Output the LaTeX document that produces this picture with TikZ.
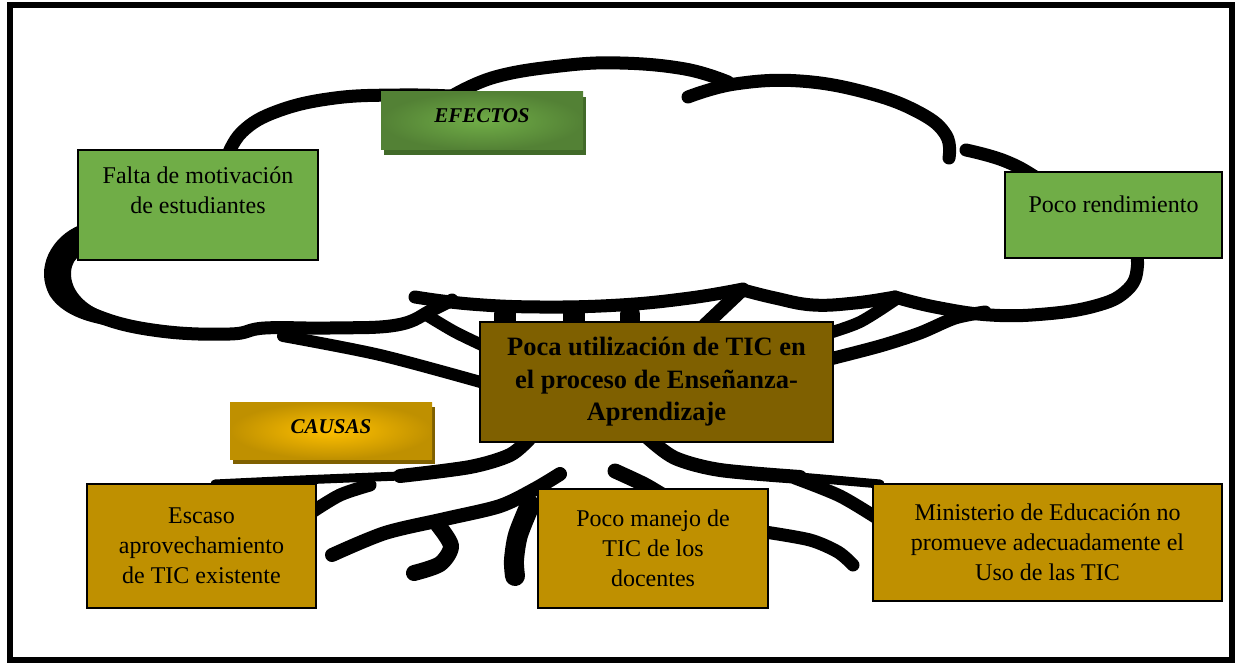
\documentclass[tikz,border=0pt]{standalone}
\usepackage{fontspec}
\setmainfont{Liberation Serif}
\usetikzlibrary{shadows}

\definecolor{effgreen}{HTML}{70AD47}
\definecolor{effdark}{HTML}{538135}
\definecolor{effshade}{HTML}{416A29}
\definecolor{causegold}{HTML}{BF9000}
\definecolor{causelight}{HTML}{FFC000}
\definecolor{coreolive}{HTML}{7F6000}

\tikzset{
  branch/.style={line width=13pt,line cap=round,line join=round},
  effbox/.style={draw,line width=2pt,fill=effgreen,inner sep=0pt,align=center,
    font=\fontsize{24}{30}\selectfont},
  efftext/.style={inner sep=0pt,align=center,font=\fontsize{24}{30}\selectfont},
  causebox/.style={draw,line width=2pt,fill=causegold,inner sep=0pt,align=center,
    font=\fontsize{24}{30}\selectfont},
  corebox/.style={draw,line width=2.5pt,fill=coreolive,inner sep=0pt,align=center,
    font=\fontsize{26.5}{32.5}\selectfont\bfseries},
  tagbox/.style={inner sep=0pt,minimum width=202pt,text height=31pt,text depth=27pt,
    font=\fontsize{21}{25}\selectfont\bfseries\itshape},
}

\begin{document}
\begin{tikzpicture}[x=1pt,y=-1pt]
\useasboundingbox (0,0) rectangle (1238,663);
\draw[line width=6pt] (10,5.5) rectangle (1232,659.5);

% crown
\draw[branch] plot[smooth,tension=0.7] coordinates {(226,160) (242,132) (278,111) (335,98) (400,95) (450,96)};
\draw[branch] plot[smooth,tension=0.7] coordinates {(452,96) (495,77) (560,66) (620,63) (685,69) (728,82)};
\draw[branch] plot[smooth,tension=0.7] coordinates {(688,97) (735,84) (800,81) (868,93) (920,113) (946,135) (949,158)};
\draw[branch] plot[smooth,tension=0.7] coordinates {(966,150) (1005,161) (1040,180) (1090,215) (1130,245) (1137,270) (1125,292) (1095,306) (1045,314) (990,315) (935,307) (895,297)};
\draw[branch] plot[smooth,tension=0.7] coordinates {(895,297) (855,303) (813,305) (775,298) (743,290)};
\draw[branch] plot[smooth,tension=0.7] coordinates {(415,297) (470,304) (540,307) (620,305) (690,298) (743,289)};
\draw[branch] plot[smooth,tension=0.7] coordinates {(90,232) (70,246) (58,268) (66,295) (100,317) (160,331) (230,334) (265,328) (330,328) (397,325) (432,310) (452,300)};
\fill (80,225) .. controls (52,236) and (34,268) .. (50,296)
  .. controls (62,314) and (85,322) .. (110,326) -- (110,314)
  .. controls (88,308) and (70,292) .. (71,272)
  .. controls (72,263) and (75,259) .. (80,256) -- cycle;

% branches into the crown
\draw[branch,line width=12pt] plot[smooth] coordinates {(428,316) (455,332) (484,346)};
\draw[branch,line width=12pt] plot[smooth] coordinates {(283,336) (380,355) (484,383)};
\draw[branch,line width=22pt] (505,322) -- (505,314);
\draw[branch,line width=22pt] (574,322) -- (574,314);
\draw[branch,line width=20pt] (630,322) -- (630,314);
\draw[branch,line width=14pt] (705,325) -- (742,290);
\draw[branch,line width=12pt] plot[smooth] coordinates {(826,334) (860,322) (895,300)};
\draw[branch] plot[smooth] coordinates {(826,360) (880,346) (920,333) (955,318) (985,312)};

% roots
\draw[branch,line width=14pt] plot[smooth] coordinates {(530,438) (510,455) (470,467) (400,476)};
\draw[branch,line width=9pt] plot[smooth] coordinates {(400,476) (300,480) (215,484)};
\draw[branch,line width=14pt] plot[smooth] coordinates {(648,438) (675,458) (720,470) (800,477)};
\draw[branch,line width=9pt] plot[smooth] coordinates {(800,477) (880,484)};
\draw[branch] plot[smooth] coordinates {(795,478) (840,496) (880,520)};
\draw[branch] plot[smooth] coordinates {(312,512) (340,495) (370,485)};
\draw[branch,line width=14pt] plot[smooth] coordinates {(332,555) (385,533) (445,519) (500,506) (535,489) (560,474)};
\draw[branch,line width=16pt] plot[smooth] coordinates {(438,525) (451,546) (440,564) (414,573)};
\draw[branch,line width=20pt] plot[smooth] coordinates {(530,505) (518,535) (514,560) (515,576)};
\draw[branch,line width=15pt] plot[smooth] coordinates {(615,471) (645,485) (670,500)};
\draw[branch] plot[smooth] coordinates {(765,532) (810,540) (838,552) (853,565)};

% boxes
\node[tagbox,inner color=effgreen,outer color=effdark,
  drop shadow={shadow xshift=3pt,shadow yshift=-5pt,fill=effshade,opacity=1}] (efectos) at (482,121) {EFECTOS};
\node[effbox,minimum width=240pt,minimum height=110pt] (falta) at (198,205) {};
\node[efftext,anchor=north] (faltatext) at ([yshift=-18pt]falta.north) {Falta de motivación\\de estudiantes};
\node[effbox,minimum width=217pt,text height=40pt,text depth=46pt] (rendim) at (1113.5,215) {Poco rendimiento};

\node[corebox,minimum width=353pt,minimum height=120pt] (core) at (656.5,382) {Poca utilización de TIC en\\el proceso de Enseñanza-\\Aprendizaje};

\node[tagbox,text depth=26pt,inner color=causelight,outer color=causegold,
  drop shadow={shadow xshift=3pt,shadow yshift=-5pt,fill=coreolive,opacity=1}] (causas) at (331,430.5) {CAUSAS};
\node[causebox,minimum width=229pt,minimum height=124pt] (escaso) at (201.5,546) {Escaso\\aprovechamiento\\de TIC existente};
\node[causebox,minimum width=230pt,minimum height=119pt] (manejo) at (653,548.5) {Poco manejo de\\TIC de los\\docentes};
\node[causebox,minimum width=349pt,minimum height=117pt] (minis) at (1047.5,542.5) {Ministerio de Educación no\\promueve adecuadamente el\\Uso de las TIC};
\end{tikzpicture}
\end{document}
